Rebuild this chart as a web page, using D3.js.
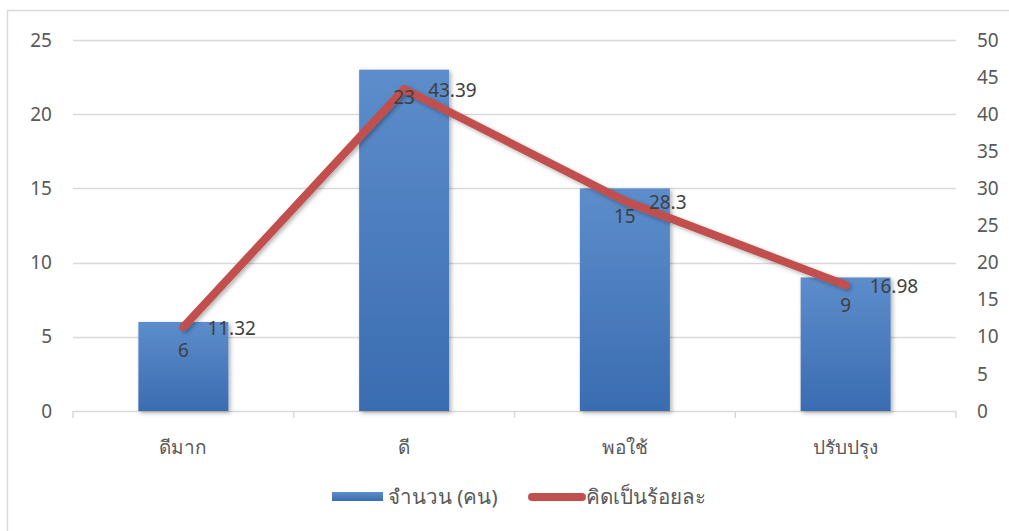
<!DOCTYPE html>
<html>
<head>
<meta charset="utf-8">
<script src="https://cdn.jsdelivr.net/npm/d3@7"></script>
<style>
  body { margin: 0; background: #fff; }
  text { font-family: "Noto Sans", "DejaVu Sans", sans-serif; fill: #404040; }
</style>
</head>
<body>
<div id="viz_div"></div>
<script>
// DATA
const categories = ["ดีมาก", "ดี", "พอใช้", "ปรับปรุง"];
const counts = [6, 23, 15, 9];
const percents = [11.32, 43.39, 28.3, 16.98];
const leftTicks = [0, 5, 10, 15, 20, 25];
const rightTicks = [0, 5, 10, 15, 20, 25, 30, 35, 40, 45, 50];
const seriesNames = ["จำนวน (คน)", "คิดเป็นร้อยละ"];

const W = 1009, H = 531;
const plot = { left: 73, right: 956, top: 40, bottom: 411 };

const svg = d3.select("#viz_div").append("svg")
    .attr("width", W).attr("height", H);

// gradient + shadow for bars
const defs = svg.append("defs");
const grad = defs.append("linearGradient").attr("id", "barGrad")
    .attr("x1", 0).attr("y1", 0).attr("x2", 0).attr("y2", 1);
grad.append("stop").attr("offset", "0%").attr("stop-color", "#5d8dcb");
grad.append("stop").attr("offset", "100%").attr("stop-color", "#3a6cb1");
const shadow = defs.append("filter").attr("id", "shadow")
    .attr("x", "-10%").attr("y", "-10%").attr("width", "130%").attr("height", "130%");
shadow.append("feDropShadow").attr("dx", 2).attr("dy", 2).attr("stdDeviation", 2)
    .attr("flood-color", "#000").attr("flood-opacity", 0.3);

// border
svg.append("rect").attr("x", 7.5).attr("y", 10.5).attr("width", 1010).attr("height", 530)
    .attr("fill", "none").attr("stroke", "#d9d9d9").attr("stroke-width", 1.5);

// SCALES
const x = d3.scaleBand().domain(categories).range([plot.left, plot.right]).padding(0);
const yL = d3.scaleLinear().domain([0, 25]).range([plot.bottom, plot.top]);
const yR = d3.scaleLinear().domain([0, 50]).range([plot.bottom, plot.top]);
const barW = 90;

// GRIDLINES
svg.append("g").selectAll("line").data(leftTicks).enter().append("line")
    .attr("x1", plot.left).attr("x2", plot.right)
    .attr("y1", d => Math.round(yL(d)) + 0.5).attr("y2", d => Math.round(yL(d)) + 0.5)
    .attr("stroke", "#d9d9d9").attr("stroke-width", 1.5);

// category boundary ticks
const bounds = [plot.left].concat(categories.map(c => x(c) + x.bandwidth()));
svg.append("g").selectAll("line").data(bounds).enter().append("line")
    .attr("x1", d => d).attr("x2", d => d)
    .attr("y1", plot.bottom).attr("y2", plot.bottom + 7)
    .attr("stroke", "#d9d9d9").attr("stroke-width", 1.5);

// AXIS LABELS
svg.append("g").selectAll("text").data(leftTicks).enter().append("text")
    .attr("x", 52).attr("y", d => yL(d)).attr("dy", "0.35em")
    .attr("text-anchor", "end").style("font-size", "19px").style("fill", "#595959")
    .text(d => d);
svg.append("g").selectAll("text").data(rightTicks).enter().append("text")
    .attr("x", 977).attr("y", d => yR(d)).attr("dy", "0.35em")
    .attr("text-anchor", "start").style("font-size", "19px").style("fill", "#595959")
    .text(d => d);
svg.append("g").selectAll("text").data(categories).enter().append("text")
    .attr("x", d => x(d) + x.bandwidth() / 2).attr("y", 454)
    .attr("text-anchor", "middle").style("font-size", "19px").style("fill", "#595959")
    .text(d => d);

// BARS
svg.append("g").selectAll("rect").data(counts).enter().append("rect")
    .attr("x", (d, i) => x(categories[i]) + x.bandwidth() / 2 - barW / 2)
    .attr("y", d => yL(d))
    .attr("width", barW)
    .attr("height", d => plot.bottom - yL(d))
    .attr("fill", "url(#barGrad)")
    .attr("filter", "url(#shadow)");

// LINE
const line = d3.line()
    .x((d, i) => x(categories[i]) + x.bandwidth() / 2)
    .y(d => yR(d));
svg.append("path").datum(percents)
    .attr("d", line)
    .attr("fill", "none").attr("stroke", "#c0504d").attr("stroke-width", 8)
    .attr("stroke-linecap", "round").attr("stroke-linejoin", "round")
    .attr("filter", "url(#shadow)");

// DATA LABELS
svg.append("g").selectAll("text").data(counts).enter().append("text")
    .attr("x", (d, i) => x(categories[i]) + x.bandwidth() / 2)
    .attr("y", d => yL(d) + 28)
    .attr("dy", "0.35em")
    .attr("text-anchor", "middle").style("font-size", "19px")
    .text(d => d);
svg.append("g").selectAll("text").data(percents).enter().append("text")
    .attr("x", (d, i) => x(categories[i]) + x.bandwidth() / 2 + 24)
    .attr("y", d => yR(d) + 1)
    .attr("dy", "0.35em")
    .attr("text-anchor", "start").style("font-size", "19px")
    .text(d => d);

// LEGEND
const lg = svg.append("g");
lg.append("rect").attr("x", 332).attr("y", 492).attr("width", 51).attr("height", 9)
    .attr("fill", "url(#barGrad)");
lg.append("text").attr("x", 388).attr("y", 497).attr("dy", "0.35em")
    .style("font-size", "20.5px").style("fill", "#595959").text(seriesNames[0]);
lg.append("line").attr("x1", 532).attr("x2", 582).attr("y1", 497).attr("y2", 497)
    .attr("stroke", "#c0504d").attr("stroke-width", 8).attr("stroke-linecap", "round");
lg.append("text").attr("x", 586).attr("y", 497).attr("dy", "0.35em")
    .style("font-size", "20.5px").style("fill", "#595959").text(seriesNames[1]);
</script>
</body>
</html>
